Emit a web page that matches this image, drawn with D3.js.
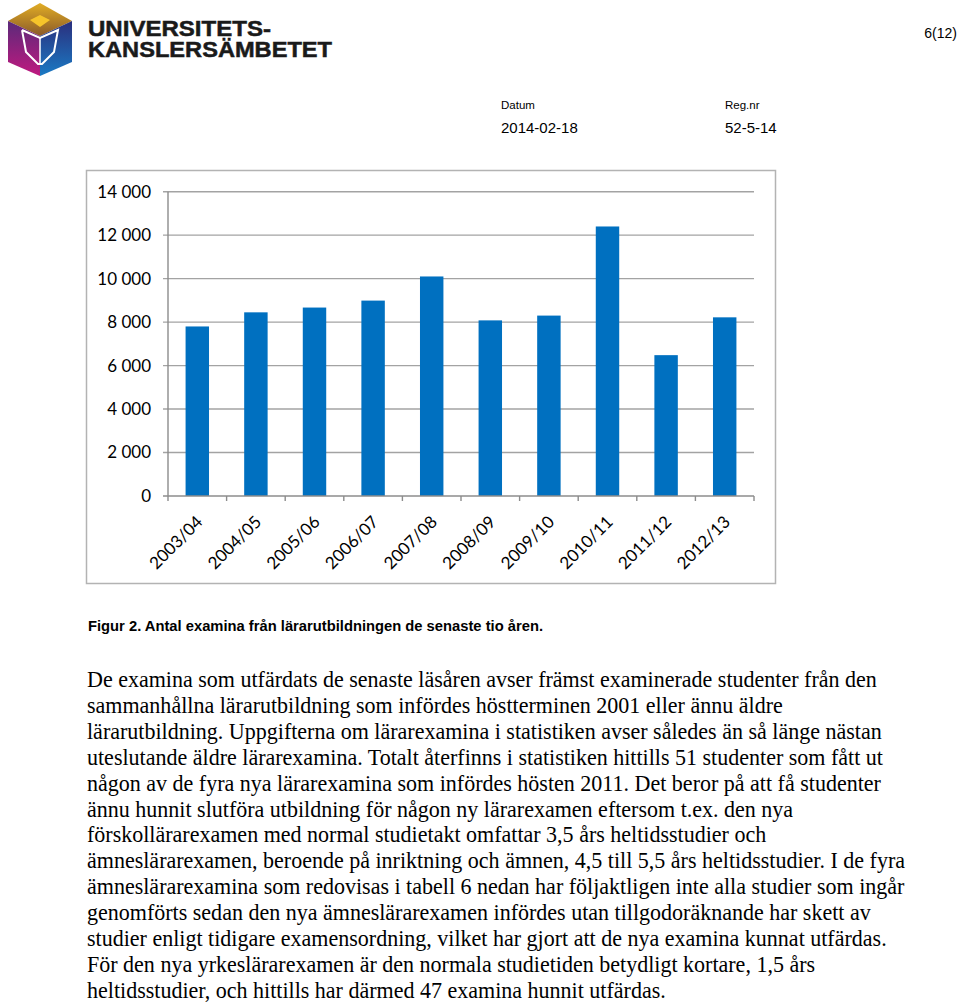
<!DOCTYPE html>
<html>
<head>
<meta charset="utf-8">
<script src="https://cdn.jsdelivr.net/npm/d3@7"></script>
<style>
  html, body { margin: 0; padding: 0; background: #fff; }
  svg { display: block; }
</style>
</head>
<body>
<svg id="page" width="960" height="1004"></svg>
<script>
// ---------- data ----------
const categories = ["2003/04", "2004/05", "2005/06", "2006/07", "2007/08", "2008/09", "2009/10", "2010/11", "2011/12", "2012/13"];
const values = [7800, 8450, 8670, 8990, 10100, 8080, 8300, 12400, 6480, 8220];
const yTicks = [0, 2000, 4000, 6000, 8000, 10000, 12000, 14000];

const logoLine1 = "UNIVERSITETS-";
const logoLine2 = "KANSLERSÄMBETET";
const pageNo = "6(12)";
const metaLabels = ["Datum", "Reg.nr"];
const metaValues = ["2014-02-18", "52-5-14"];
const caption = "Figur 2. Antal examina från lärarutbildningen de senaste tio åren.";
const paragraph = [
  "De examina som utfärdats de senaste läsåren avser främst examinerade studenter från den",
  "sammanhållna lärarutbildning som infördes höstterminen 2001 eller ännu äldre",
  "lärarutbildning. Uppgifterna om lärarexamina i statistiken avser således än så länge nästan",
  "uteslutande äldre lärarexamina. Totalt återfinns i statistiken hittills 51 studenter som fått ut",
  "någon av de fyra nya lärarexamina som infördes hösten 2011. Det beror på att få studenter",
  "ännu hunnit slutföra utbildning för någon ny lärarexamen eftersom t.ex. den nya",
  "förskollärarexamen med normal studietakt omfattar 3,5 års heltidsstudier och",
  "ämneslärarexamen, beroende på inriktning och ämnen, 4,5 till 5,5 års heltidsstudier. I de fyra",
  "ämneslärarexamina som redovisas i tabell 6 nedan har följaktligen inte alla studier som ingår",
  "genomförts sedan den nya ämneslärarexamen infördes utan tillgodoräknande har skett av",
  "studier enligt tidigare examensordning, vilket har gjort att de nya examina kunnat utfärdas.",
  "För den nya yrkeslärarexamen är den normala studietiden betydligt kortare, 1,5 års",
  "heltidsstudier, och hittills har därmed 47 examina hunnit utfärdas."
];

// ---------- page ----------
const svg = d3.select("#page");
const defs = svg.append("defs");

// ---- logo ----
const gGold = defs.append("linearGradient").attr("id", "gGold").attr("x1", 0).attr("y1", 0).attr("x2", 0).attr("y2", 1);
gGold.append("stop").attr("offset", "0%").attr("stop-color", "#e2ad24");
gGold.append("stop").attr("offset", "100%").attr("stop-color", "#8a5a2a");
const gPurple = defs.append("linearGradient").attr("id", "gPurple").attr("x1", 0).attr("y1", 0).attr("x2", 0).attr("y2", 1);
gPurple.append("stop").attr("offset", "0%").attr("stop-color", "#5a2a7a");
gPurple.append("stop").attr("offset", "100%").attr("stop-color", "#c0197f");
const gBlue = defs.append("linearGradient").attr("id", "gBlue").attr("x1", 0).attr("y1", 0).attr("x2", 0).attr("y2", 1);
gBlue.append("stop").attr("offset", "0%").attr("stop-color", "#2b2f7d");
gBlue.append("stop").attr("offset", "100%").attr("stop-color", "#1a7ac4");

const logo = svg.append("g");
logo.append("polygon").attr("points", "8,21 40,3 72,21 40,36").attr("fill", "url(#gGold)");
logo.append("polygon").attr("points", "8,21 40,36 40,76 8,62").attr("fill", "url(#gPurple)");
logo.append("polygon").attr("points", "72,21 40,36 40,76 72,62").attr("fill", "url(#gBlue)");
logo.append("polygon").attr("points", "30,20 40,15 50,20 40,27").attr("fill", "#f6c42a");
logo.append("polyline").attr("points", "22,30 40,38 58,30 54,52 42,64 38,64 26,52 22,30")
  .attr("fill", "none").attr("stroke", "#fff").attr("stroke-width", 2);
logo.append("polyline").attr("points", "40,38 40,64").attr("stroke", "#fff").attr("stroke-width", 1.5);

svg.append("text").attr("x", 88).attr("y", 35.5)
  .attr("font-family", "Liberation Sans, Arial, sans-serif").attr("font-weight", "bold")
  .attr("font-size", 22).attr("fill", "#1a1a1a").attr("stroke", "#1a1a1a").attr("stroke-width", 0.5)
  .attr("textLength", 183).attr("lengthAdjust", "spacingAndGlyphs").text(logoLine1);
svg.append("text").attr("x", 88).attr("y", 57)
  .attr("font-family", "Liberation Sans, Arial, sans-serif").attr("font-weight", "bold")
  .attr("font-size", 22).attr("fill", "#1a1a1a").attr("stroke", "#1a1a1a").attr("stroke-width", 0.5)
  .attr("textLength", 244).attr("lengthAdjust", "spacingAndGlyphs").text(logoLine2);

svg.append("text").attr("x", 957).attr("y", 38).attr("text-anchor", "end")
  .attr("font-family", "Liberation Sans, Arial, sans-serif").attr("font-size", 14)
  .attr("fill", "#000").text(pageNo);

const metaX = [501, 725];
metaLabels.forEach((t, i) => {
  svg.append("text").attr("x", metaX[i]).attr("y", 108.5)
    .attr("font-family", "Liberation Sans, Arial, sans-serif").attr("font-size", 11.5)
    .attr("fill", "#000").text(t);
  svg.append("text").attr("x", metaX[i]).attr("y", 133)
    .attr("font-family", "Liberation Sans, Arial, sans-serif").attr("font-size", 15)
    .attr("fill", "#000").text(metaValues[i]);
});

// ---- chart ----
svg.append("rect").attr("x", 86.5).attr("y", 170.5).attr("width", 689).attr("height", 413)
  .attr("fill", "#fff").attr("stroke", "#b3b3b3").attr("stroke-width", 1.5);

const x = d3.scaleBand().domain(categories).range([168, 754]).paddingInner(0.6).paddingOuter(0.3);
const y = d3.scaleLinear().domain([0, 14000]).range([496, 191.7]);
const locale = d3.formatLocale({ decimal: ",", thousands: " ", grouping: [3], currency: ["", ""] });
const fmt = locale.format(",d");

const chart = svg.append("g");

// gridlines (with the small outer tick at left)
chart.append("g").selectAll("line").data(yTicks.filter(d => d > 0)).join("line")
  .attr("x1", 163).attr("x2", 754)
  .attr("y1", d => y(d)).attr("y2", d => y(d))
  .attr("stroke", "#a3a3a3").attr("stroke-width", 1.4);

// y axis labels
chart.append("g").selectAll("text").data(yTicks).join("text")
  .attr("x", 151).attr("y", d => y(d)).attr("dy", "0.35em")
  .attr("text-anchor", "end")
  .attr("font-family", "Lato, Carlito, Calibri, sans-serif").attr("font-size", 17)
  .attr("fill", "#000").text(d => fmt(d));

// bars
chart.append("g").selectAll("rect").data(values).join("rect")
  .attr("x", (d, i) => x(categories[i]))
  .attr("width", x.bandwidth())
  .attr("y", d => y(d))
  .attr("height", d => y(0) - y(d))
  .attr("fill", "#0070c0");

// axes lines
chart.append("line").attr("x1", 168).attr("x2", 168).attr("y1", y(14000)).attr("y2", y(0))
  .attr("stroke", "#8c8c8c").attr("stroke-width", 1.4);
chart.append("line").attr("x1", 163).attr("x2", 754).attr("y1", y(0)).attr("y2", y(0))
  .attr("stroke", "#8c8c8c").attr("stroke-width", 1.4);

// x ticks at band boundaries
const boundaries = categories.map(c => x(c) - x.step() * x.paddingOuter()).concat([x.range()[1]]);
chart.append("g").selectAll("line").data(boundaries).join("line")
  .attr("x1", d => d).attr("x2", d => d).attr("y1", y(0)).attr("y2", y(0) + 5)
  .attr("stroke", "#8c8c8c").attr("stroke-width", 1.4);

// x labels
chart.append("g").selectAll("text").data(categories).join("text")
  .attr("transform", d => `translate(${x(d) + x.bandwidth() / 2 + 6.5},523) rotate(-45)`)
  .attr("text-anchor", "end")
  .attr("font-family", "Lato, Carlito, Calibri, sans-serif").attr("font-size", 17)
  .attr("fill", "#000").text(d => d);

// ---- caption ----
svg.append("text").attr("x", 88).attr("y", 631)
  .attr("font-family", "Liberation Sans, Arial, sans-serif").attr("font-weight", "bold")
  .attr("font-size", 15.5).attr("fill", "#000")
  .attr("textLength", 455).attr("lengthAdjust", "spacingAndGlyphs")
  .text(caption);

// ---- paragraph ----
const para = svg.append("g")
  .attr("font-family", "Liberation Serif, 'Times New Roman', serif").attr("fill", "#000");
const probe = para.append("text").attr("font-size", 100).text(paragraph[0]);
const w100 = probe.node().getComputedTextLength();
probe.remove();
const fs = 100 * 790 / w100;
para.selectAll("text").data(paragraph).join("text")
  .attr("x", 87).attr("y", (d, i) => 687 + i * 25.9)
  .attr("font-size", fs)
  .text(d => d);
</script>
</body>
</html>
